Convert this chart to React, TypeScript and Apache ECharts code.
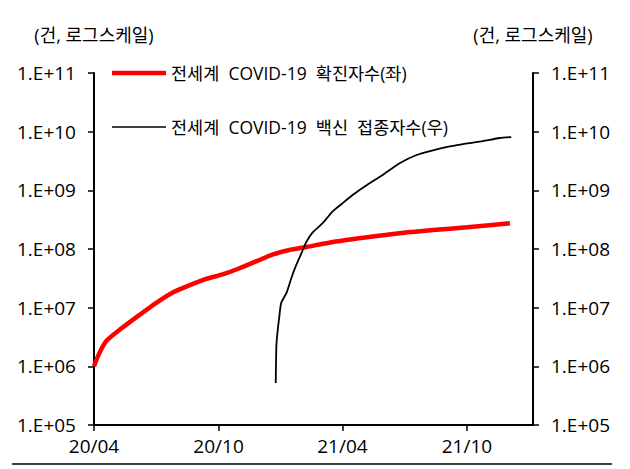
import React, { useEffect, useRef } from "react";
import * as echarts from "echarts";

const confirmedDates = [
  "2020-04-01", "2020-04-08", "2020-04-19", "2020-05-12", "2020-06-06", "2020-07-01",
  "2020-07-25", "2020-08-19", "2020-09-13", "2020-10-07", "2020-11-01", "2020-11-26",
  "2020-12-19", "2021-01-13", "2021-02-07", "2021-03-18", "2021-05-07", "2021-06-24",
  "2021-08-12", "2021-10-01", "2021-12-03",
];
const confirmedValues = [
  1.0e6, 1.6e6, 2.7e6, 4.5e6, 7.4e6, 1.2e7,
  1.8e7, 2.4e7, 3.1e7, 3.7e7, 4.7e7, 6.2e7,
  8.0e7, 9.6e7, 1.08e8, 1.32e8, 1.59e8, 1.86e8,
  2.1e8, 2.35e8, 2.75e8,
];

const vaccineDates = [
  "2020-12-24", "2020-12-25", "2020-12-27", "2020-12-29", "2021-01-01", "2021-01-09",
  "2021-01-16", "2021-01-23", "2021-01-31", "2021-02-07", "2021-02-16", "2021-03-03",
  "2021-03-17", "2021-04-01", "2021-04-16", "2021-05-07", "2021-05-30", "2021-06-24",
  "2021-07-19", "2021-08-12", "2021-09-06", "2021-10-01", "2021-10-24", "2021-11-18",
  "2021-12-05",
];
const vaccineValues = [
  5.2e5, 2.3e6, 4.2e6, 6.6e6, 1.2e7, 1.8e7,
  3.2e7, 5.3e7, 8.6e7, 1.32e8, 1.9e8, 2.75e8,
  4.3e8, 6.0e8, 8.3e8, 1.23e9, 1.82e9, 2.9e9,
  4.0e9, 4.8e9, 5.6e9, 6.3e9, 6.9e9, 7.8e9,
  8.1e9,
];

const xTickDates = ["2020-04-01", "2020-10-01", "2021-04-01", "2021-10-01"];
const xMin = "2020-04-01";
const xMax = "2022-01-06";
const yMin = 1e5;
const yMax = 1e11;

const seriesNames = ["전세계  COVID-19  확진자수(좌)", "전세계  COVID-19  백신  접종자수(우)"];
const axisUnit = "(건, 로그스케일)";

const FONT = "'Open Sans', 'Noto Sans CJK KR', sans-serif";
const DAY = 86400000;

function utc(d: string) {
  const [y, m, dd] = d.split("-").map(Number);
  return Date.UTC(y, m - 1, dd);
}
// days since xMin
function dayOf(d: string) {
  return Math.round((utc(d) - utc(xMin)) / DAY);
}

function fmtY(v: number) {
  const e = Math.round(Math.log10(v));
  return "1.E+" + String(e).padStart(2, "0");
}

function fmtX(v: number) {
  const d = new Date(utc(xMin) + Math.round(v) * DAY);
  const yy = String(d.getUTCFullYear() % 100).padStart(2, "0");
  const mm = String(d.getUTCMonth() + 1).padStart(2, "0");
  return yy + "/" + mm;
}

export default function App() {
  const ref = useRef<HTMLDivElement>(null);
  useEffect(() => {
    if (!ref.current) return;
    const chart = echarts.init(ref.current, undefined, { renderer: "svg" });
    const tickVals = xTickDates.map(dayOf);
    const yAxisCommon = {
      type: "log" as const,
      logBase: 10,
      min: yMin,
      max: yMax,
      name: axisUnit,
      nameLocation: "end" as const,
      nameGap: 29,
      nameTextStyle: { fontFamily: FONT, fontSize: 18, color: "#000" },
      axisLine: { show: true, lineStyle: { color: "#000", width: 2 } },
      axisTick: { show: true, inside: false, length: 6, lineStyle: { color: "#000", width: 1.5 } },
      minorTick: { show: false },
      splitLine: { show: false },
      axisLabel: {
        formatter: fmtY,
        fontFamily: FONT,
        fontSize: 19,
        color: "#000",
        margin: 18,
      },
    };
    chart.setOption({
      animation: false,
      backgroundColor: "#fff",
      grid: { left: 94, right: 97, top: 73, bottom: 44, containLabel: false },
      legend: {
        orient: "vertical",
        left: 112,
        top: 63,
        padding: 0,
        itemWidth: 54,
        itemHeight: 20,
        itemGap: 34,
        textStyle: { fontFamily: FONT, fontSize: 17.5, color: "#000", lineHeight: 20 },
        data: [
          { name: seriesNames[0], icon: "path://M0 0H54V4.5H0Z" },
          { name: seriesNames[1], icon: "path://M0 0H54V1.6H0Z" },
        ],
      },
      xAxis: {
        type: "value",
        min: 0,
        max: dayOf(xMax),
        axisLine: { show: true, onZero: false, lineStyle: { color: "#000", width: 2 } },
        axisTick: {
          show: true,
          inside: false,
          length: 6,
          customValues: tickVals,
          lineStyle: { color: "#000", width: 1.5 },
        },
        axisLabel: {
          customValues: tickVals,
          formatter: (v: number) => fmtX(v),
          fontFamily: FONT,
          fontSize: 19,
          color: "#000",
          margin: 11,
        },
        splitLine: { show: false },
      },
      yAxis: [
        { ...yAxisCommon, position: "left" },
        { ...yAxisCommon, position: "right" },
      ],
      series: [
        {
          name: seriesNames[0],
          type: "line",
          yAxisIndex: 0,
          symbol: "none",
          showSymbol: false,
          smooth: 0.25,
          lineStyle: { color: "#ff0000", width: 4.5 },
          itemStyle: { color: "#ff0000" },
          data: confirmedDates.map((d, i) => [dayOf(d), confirmedValues[i]]),
        },
        {
          name: seriesNames[1],
          type: "line",
          yAxisIndex: 1,
          symbol: "none",
          showSymbol: false,
          smooth: 0.2,
          lineStyle: { color: "#000", width: 1.8 },
          itemStyle: { color: "#000" },
          data: vaccineDates.map((d, i) => [dayOf(d), vaccineValues[i]]),
        },
      ],
      graphic: [
        {
          type: "line",
          shape: { x1: 12, y1: 464, x2: 612, y2: 464 },
          style: { stroke: "#000", lineWidth: 1.5 },
        },
      ],
    });
    return () => chart.dispose();
  }, []);
  return (
    <div
      ref={ref}
      style={{ position: "fixed", left: 0, top: 0, width: 630, height: 469, background: "#fff" }}
    />
  );
}
